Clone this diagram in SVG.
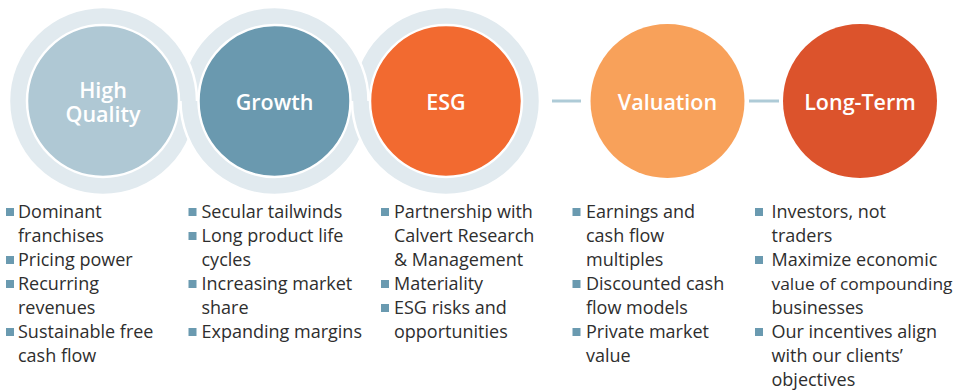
<svg xmlns="http://www.w3.org/2000/svg" width="956" height="390" viewBox="0 0 956 390">
<style>
.ring{fill:#e1eaef;stroke:#fff;stroke-width:2.5}
.inner{stroke:#fff;stroke-width:2.5}
.title{font-family:"Open Sans","Liberation Sans",sans-serif;font-size:21.5px;font-weight:600;fill:#fff;text-anchor:middle}
.item{font-family:"Open Sans","Liberation Sans",sans-serif;font-size:18px;fill:#2e2e2e}
.bul{fill:#6a9ab0}
.conn{stroke:#aecbd7;stroke-width:3;fill:none}
</style>
<defs>
<clipPath id="topHalf"><rect x="0" y="0" width="956" height="101"/></clipPath>
<clipPath id="botHalf"><rect x="0" y="101" width="956" height="289"/></clipPath>
</defs>
<rect width="956" height="390" fill="#fff"/>
<g id="rings">
<g clip-path="url(#topHalf)">
<circle class="ring" cx="446" cy="101" r="94"/>
<circle class="ring" cx="274.5" cy="101" r="94"/>
<circle class="ring" cx="103" cy="101" r="94"/>
</g>
<g clip-path="url(#botHalf)">
<circle class="ring" cx="103" cy="101" r="94"/>
<circle class="ring" cx="274.5" cy="101" r="94"/>
<circle class="ring" cx="446" cy="101" r="94"/>
</g>
</g>
<g id="connectors">
<line class="conn" x1="552" y1="101" x2="581" y2="101"/>
<line class="conn" x1="749" y1="101" x2="779" y2="101"/>
</g>
<g id="high-quality">
<circle class="inner" cx="103" cy="101" r="76" fill="#afc8d4"/>
<text class="title" x="103" y="98">High</text>
<text class="title" x="103" y="122">Quality</text>
</g>
<g id="growth">
<circle class="inner" cx="274.5" cy="101" r="76" fill="#6a99af"/>
<text class="title" x="274.5" y="110">Growth</text>
</g>
<g id="esg">
<circle class="inner" cx="446" cy="101" r="76" fill="#f26a30"/>
<text class="title" x="446" y="110">ESG</text>
</g>
<g id="valuation">
<circle cx="667.5" cy="101" r="77" fill="#f8a15a"/>
<text class="title" x="667.5" y="110">Valuation</text>
</g>
<g id="long-term">
<circle cx="860" cy="101" r="77" fill="#dc532c"/>
<text class="title" x="860" y="110">Long-Term</text>
</g>
<g id="list-high-quality">
<rect class="bul" x="6" y="208" width="8" height="8"/>
<rect class="bul" x="6" y="256" width="8" height="8"/>
<rect class="bul" x="6" y="280" width="8" height="8"/>
<rect class="bul" x="6" y="328" width="8" height="8"/>
<text class="item" x="18" y="218">Dominant</text>
<text class="item" x="18" y="242">franchises</text>
<text class="item" x="18" y="266">Pricing power</text>
<text class="item" x="18" y="290">Recurring</text>
<text class="item" x="18" y="314">revenues</text>
<text class="item" x="18" y="338">Sustainable free</text>
<text class="item" x="18" y="362">cash flow</text>
</g>
<g id="list-growth">
<rect class="bul" x="188.5" y="208" width="8" height="8"/>
<rect class="bul" x="188.5" y="232" width="8" height="8"/>
<rect class="bul" x="188.5" y="280" width="8" height="8"/>
<rect class="bul" x="188.5" y="328" width="8" height="8"/>
<text class="item" x="201.5" y="218">Secular tailwinds</text>
<text class="item" x="201.5" y="242">Long product life</text>
<text class="item" x="201.5" y="266">cycles</text>
<text class="item" x="201.5" y="290">Increasing market</text>
<text class="item" x="201.5" y="314">share</text>
<text class="item" x="201.5" y="338">Expanding margins</text>
</g>
<g id="list-esg">
<rect class="bul" x="381" y="208" width="8" height="8"/>
<rect class="bul" x="381" y="280" width="8" height="8"/>
<rect class="bul" x="381" y="304" width="8" height="8"/>
<text class="item" x="394" y="218">Partnership with</text>
<text class="item" x="394" y="242">Calvert Research</text>
<text class="item" x="394" y="266">&amp; Management</text>
<text class="item" x="394" y="290">Materiality</text>
<text class="item" x="394" y="314">ESG risks and</text>
<text class="item" x="394" y="338">opportunities</text>
</g>
<g id="list-valuation">
<rect class="bul" x="572.5" y="208" width="8" height="8"/>
<rect class="bul" x="572.5" y="280" width="8" height="8"/>
<rect class="bul" x="572.5" y="328" width="8" height="8"/>
<text class="item" x="586" y="218">Earnings and</text>
<text class="item" x="586" y="242">cash flow</text>
<text class="item" x="586" y="266">multiples</text>
<text class="item" x="586" y="290">Discounted cash</text>
<text class="item" x="586" y="314">flow models</text>
<text class="item" x="586" y="338">Private market</text>
<text class="item" x="586" y="362">value</text>
</g>
<g id="list-long-term">
<rect class="bul" x="755" y="208" width="8" height="8"/>
<rect class="bul" x="755" y="256" width="8" height="8"/>
<rect class="bul" x="755" y="328" width="8" height="8"/>
<text class="item" x="771.5" y="218">Investors, not</text>
<text class="item" x="771.5" y="242">traders</text>
<text class="item" x="771.5" y="266">Maximize economic</text>
<text class="item" x="771.5" y="290" style="font-size:17.2px" textLength="181" lengthAdjust="spacingAndGlyphs">value of compounding</text>
<text class="item" x="771.5" y="314">businesses</text>
<text class="item" x="771.5" y="338">Our incentives align</text>
<text class="item" x="771.5" y="362">with our clients’</text>
<text class="item" x="771.5" y="386">objectives</text>
</g>
</svg>
